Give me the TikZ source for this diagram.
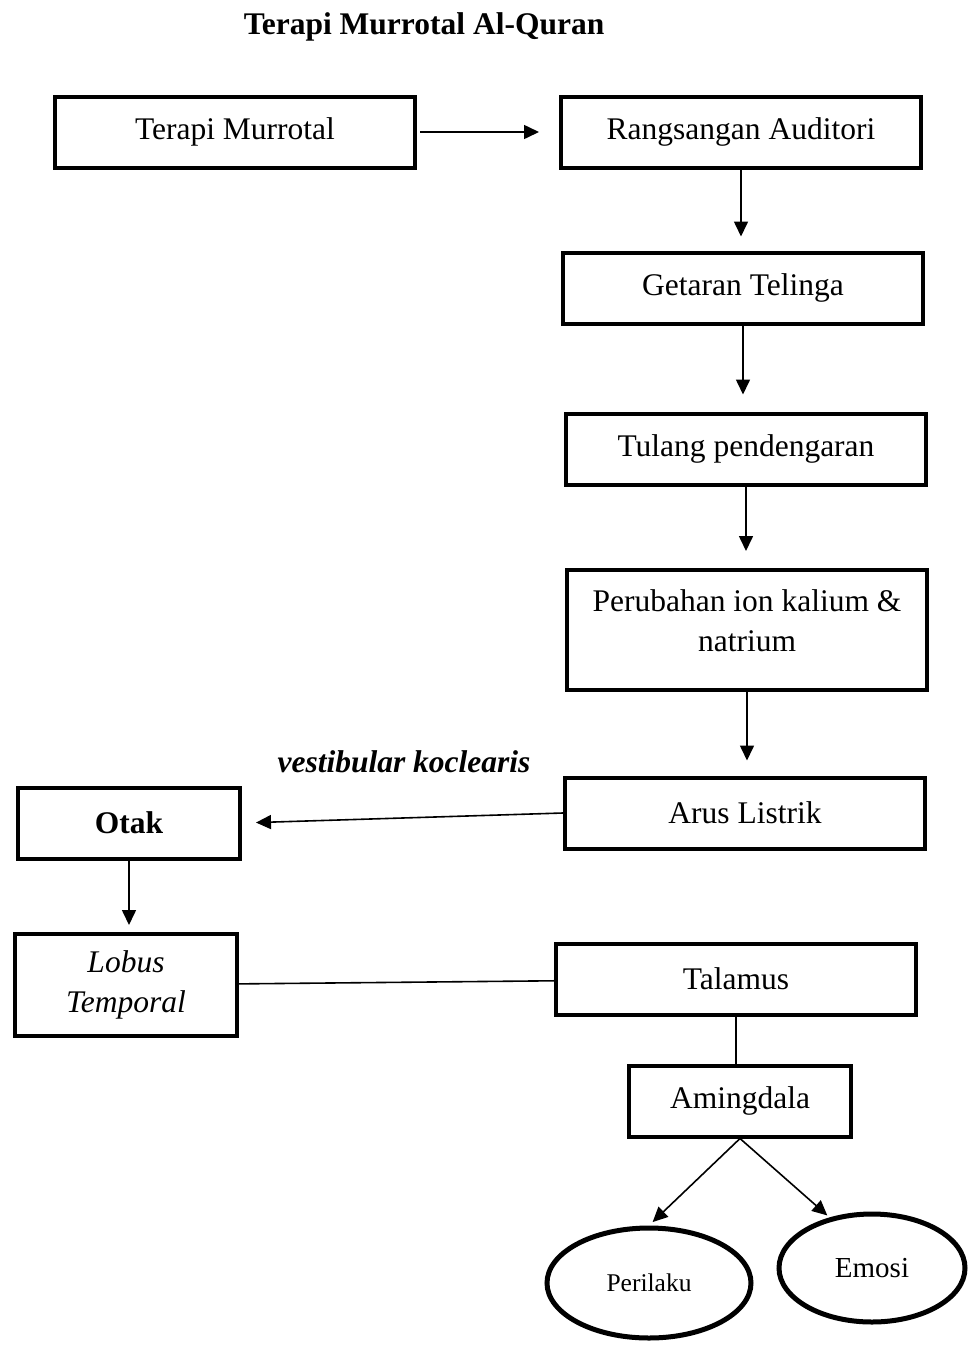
\documentclass[tikz,border=0pt]{standalone}
\usepackage{fontspec}
\setmainfont{Liberation Serif}
\usetikzlibrary{arrows.meta,shapes.geometric}

\tikzset{
  box/.style={draw,line width=4pt,minimum width=360pt,minimum height=71pt,inner sep=0pt},
  smallbox/.style={box,minimum width=222pt},
  oval/.style={ellipse,draw,line width=5pt,inner sep=0pt},
  arr/.style={line width=1.6pt,-{Triangle[length=15pt,width=14pt]}},
  link/.style={line width=1.6pt}
}

\begin{document}
\begin{tikzpicture}[x=1pt,y=-1pt,font=\fontsize{31.5}{40}\selectfont]
	\useasboundingbox (0,0) rectangle (972,1347);

	\node (judul) at (424,27) {\textbf{Terapi Murrotal Al-Quran}};
	\node (saraf) at (404,762) {\textbf{\textit{vestibular koclearis}}};

	\begin{scope}
	    \node[box] (murrotal) at (235,132) {Terapi Murrotal};
	    \node[box] (rangsangan) at (741,132) {Rangsangan Auditori};
	    \node[box] (getaran) at (743,288) {Getaran Telinga};
	    \node[box] (tulang) at (746,449) {Tulang pendengaran};
	    \node[box,minimum height=120pt] (perubahan) at (747,630) {\raisebox{7pt}[\height][\depth]{\begin{tabular}{@{}c@{}}Perubahan ion kalium \&\\natrium\end{tabular}}};
	    \node[box] (arus) at (745,813) {Arus Listrik};
	    \node[smallbox] (otak) at (129,823) {\textbf{Otak}};
	    \node[smallbox,minimum height=102pt,align=center] (lobus) at (126,985) {\textit{Lobus}\\\textit{Temporal}};
	    \node[box] (talamus) at (736,979) {Talamus};
	    \node[smallbox] (amingdala) at (740,1101) {Amingdala};
	    \node[oval,minimum width=204pt,minimum height=110pt,font=\fontsize{25.5}{30}\selectfont] (perilaku) at (649,1283) {Perilaku};
	    \node[oval,minimum width=186pt,minimum height=108pt,font=\fontsize{29}{34}\selectfont] (emosi) at (872,1268) {Emosi};
	\end{scope}

	\begin{scope}
	    \draw[arr,shorten <=3pt,shorten >=20pt] (murrotal) -- (rangsangan);
	    \draw[arr,shorten >=14pt] (rangsangan.south) -- (rangsangan.south |- getaran.north);
	    \draw[arr,shorten >=17pt] (getaran.south) -- (getaran.south |- tulang.north);
	    \draw[arr,shorten >=17pt] (tulang.south) -- (tulang.south |- perubahan.north);
	    \draw[arr,shorten >=15pt] (perubahan.south) -- (perubahan.south |- arus.north);
	    \draw[arr,shorten >=14pt] (arus.west) -- (otak.east);
	    \draw[arr,shorten >=7pt] (otak.south) -- (otak.south |- lobus.north);
	    \draw[link] (lobus) -- (talamus);
	    \draw[link] (talamus.south) -- (talamus.south |- amingdala.north);
	    \draw[arr,shorten >=5pt] (amingdala.south) -- (perilaku.north);
	    \draw[arr,shorten >=3pt] (amingdala.south) -- (emosi.130);
	\end{scope}
\end{tikzpicture}
\end{document}
